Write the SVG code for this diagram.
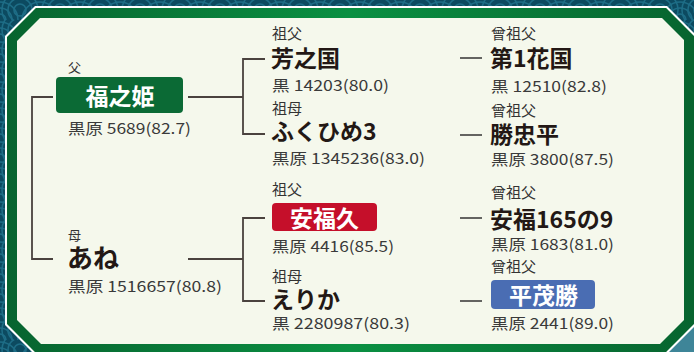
<svg xmlns="http://www.w3.org/2000/svg" width="694" height="352" viewBox="0 0 694 352">
<defs>
<pattern id="sei" width="40" height="20" patternUnits="userSpaceOnUse">
<rect width="40" height="20" fill="#0c4a60"/>
<g fill="none" stroke="#1d6d86" stroke-width="1.6">
<circle cx="0" cy="20" r="18"/><circle cx="0" cy="20" r="12"/><circle cx="0" cy="20" r="6"/>
<circle cx="40" cy="20" r="18"/><circle cx="40" cy="20" r="12"/><circle cx="40" cy="20" r="6"/>
<circle cx="20" cy="10" r="18"/><circle cx="20" cy="10" r="12"/><circle cx="20" cy="10" r="6"/>
</g>
</pattern>
<linearGradient id="gband" x1="0" y1="0" x2="1" y2="0">
<stop offset="0" stop-color="#07642f"/>
<stop offset="0.5" stop-color="#0a9042"/>
<stop offset="1" stop-color="#07642f"/>
</linearGradient>
<style>
text{font-family:"Noto Sans CJK JP","Noto Sans",sans-serif;}
.lbl{font-size:15px;fill:#333333;}
.lbs{font-size:13px;fill:#333333;}
.nm{font-size:23px;font-weight:700;fill:#231815;}
.nmL{font-size:26px;font-weight:700;fill:#231815;}
.bx{font-size:23px;font-weight:700;fill:#ffffff;}
.num{font-size:15px;fill:#3a3a3a;}
.ln{fill:none;stroke:#4a423e;stroke-width:1.8;}
.dash{fill:none;stroke:#333333;stroke-width:1.5;}
</style>
</defs>
<rect width="694" height="352" fill="url(#sei)"/>
<polygon points="668,352 694,326 694,352" fill="#3e8598"/>
<polygon points="35,6 667,6 696,35 696,325 665,356 36,356 5,325 5,36" fill="#ffffff"/>
<polygon points="35.9,8 666.1,8 694,35.9 694,324.1 664.1,354 36.9,354 7,324.1 7,36.9" fill="url(#gband)"/>
<polygon points="40,18 662,18 684,40 684,320 660,344 41,344 17,320 17,41" fill="#f5f8ec"/>

<g id="connectors">
<polyline class="ln" points="53,97 32,97 32,259 53,259"/>
<line class="ln" x1="188" y1="97" x2="243" y2="97"/>
<polyline class="ln" points="265,59 243,59 243,134 265,134"/>
<line class="ln" x1="188" y1="259" x2="243" y2="259"/>
<polyline class="ln" points="265,218 243,218 243,301 265,301"/>
<line class="dash" x1="460" y1="58" x2="482" y2="58"/>
<line class="dash" x1="460" y1="135" x2="482" y2="135"/>
<line class="dash" x1="460" y1="218" x2="482" y2="218"/>
<line class="dash" x1="460" y1="301" x2="482" y2="301"/>
</g>

<g id="father">
<text class="lbs" x="68" y="72" font-size="14">父</text>
<rect x="56" y="77" width="127" height="36" rx="4" fill="#0b6a35"/>
<text class="bx" x="120" y="105" font-size="26" text-anchor="middle">福之姫</text>
<text class="num" x="68" y="134" textLength="123" lengthAdjust="spacingAndGlyphs">黒原 5689(82.7)</text>
</g>

<g id="mother">
<text class="lbs" x="68" y="240">母</text>
<text class="nmL" x="67" y="267.5">あね</text>
<text class="num" x="68" y="292" textLength="154" lengthAdjust="spacingAndGlyphs">黒原 1516657(80.8)</text>
</g>

<g id="pgf">
<text class="lbl" x="272" y="39">祖父</text>
<text class="nm" x="271" y="66.5">芳之国</text>
<text class="num" x="272" y="90.5" textLength="117" lengthAdjust="spacingAndGlyphs">黒 14203(80.0)</text>
</g>

<g id="pgm">
<text class="lbl" x="272" y="114">祖母</text>
<text class="nm" x="271" y="139.5">ふくひめ3</text>
<text class="num" x="272" y="164" textLength="153" lengthAdjust="spacingAndGlyphs">黒原 1345236(83.0)</text>
</g>

<g id="mgf">
<text class="lbl" x="272" y="195">祖父</text>
<rect x="272" y="203" width="105" height="28" rx="4" fill="#c50f2a"/>
<text class="bx" x="324.5" y="226.5" text-anchor="middle">安福久</text>
<text class="num" x="272" y="252" textLength="122" lengthAdjust="spacingAndGlyphs">黒原 4416(85.5)</text>
</g>

<g id="mgm">
<text class="lbl" x="272" y="282">祖母</text>
<text class="nm" x="271" y="307.5" font-size="24">えりか</text>
<text class="num" x="272" y="328.5" textLength="138" lengthAdjust="spacingAndGlyphs">黒 2280987(80.3)</text>
</g>

<g id="ggf1">
<text class="lbl" x="491" y="39">曾祖父</text>
<text class="nm" x="490" y="66.5">第1花国</text>
<text class="num" x="491" y="91.5" textLength="116" lengthAdjust="spacingAndGlyphs">黒 12510(82.8)</text>
</g>

<g id="ggf2">
<text class="lbl" x="491" y="116">曾祖父</text>
<text class="nm" x="490" y="142.5">勝忠平</text>
<text class="num" x="491" y="165" textLength="123" lengthAdjust="spacingAndGlyphs">黒原 3800(87.5)</text>
</g>

<g id="ggf3">
<text class="lbl" x="491" y="198">曾祖父</text>
<text class="nm" x="490" y="227.5">安福165の9</text>
<text class="num" x="491" y="249.5" textLength="123" lengthAdjust="spacingAndGlyphs">黒原 1683(81.0)</text>
</g>

<g id="ggf4">
<text class="lbl" x="491" y="272">曾祖父</text>
<rect x="491" y="280" width="104" height="29" rx="4" fill="#4a6db3"/>
<text class="bx" x="543.5" y="304" text-anchor="middle">平茂勝</text>
<text class="num" x="491" y="328.5" textLength="123" lengthAdjust="spacingAndGlyphs">黒原 2441(89.0)</text>
</g>
</svg>
